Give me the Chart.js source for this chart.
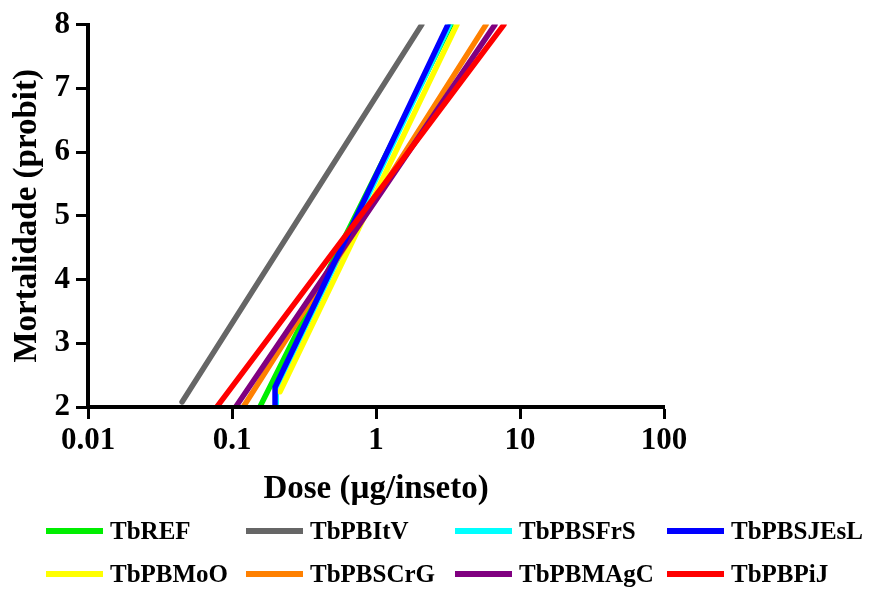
<!DOCTYPE html>
<html>
<head>
<meta charset="utf-8">
<script src="https://cdn.jsdelivr.net/npm/chart.js@4/dist/chart.umd.min.js"></script>
<style>
  html, body { margin:0; padding:0; background:#fff; }
  #wrap { position:relative; width:870px; height:593px; overflow:hidden; }
  #chart-box { position:absolute; left:0; top:0; width:870px; height:510px; }
  #legend {
    position:absolute; left:46px; top:509px;
    display:grid; grid-template-columns:200px 209px 212px 200px;
    row-gap:0; font-family:"Liberation Serif", "Times New Roman", serif;
    font-weight:bold; font-size:25px; color:#000;
  }
  #legend .item { display:flex; align-items:center; height:43px; white-space:nowrap; }
  #legend .swatch { width:57px; height:6px; margin-right:7px; }
</style>
</head>
<body>
<div id="wrap">
  <div id="chart-box"><canvas id="chart"></canvas></div>
  <div id="legend"></div>
</div>
<script>
// series, in legend order
const names  = ['TbREF','TbPBItV','TbPBSFrS','TbPBSJEsL','TbPBMoO','TbPBSCrG','TbPBMAgC','TbPBPiJ'];
const colors = ['#00ee00','#666666','#00ffff','#0000ff','#ffff00','#ff8000','#800080','#ff0000'];

// dose (µg/inseto) and probit of each line's points
const doses = [
  [0.156, 3.32],
  [0.045, 2.08],
  [0.203, 0.203, 3.26],
  [0.199, 0.199, 3.16],
  [0.2154, 3.65],
  [0.1197, 5.81],
  [0.106, 6.70],
  [0.0784, 7.74]
];
const probits = [
  [2, 8],
  [2.08, 8],
  [2, 2.3, 8],
  [2, 2.31, 8],
  [2.24, 8],
  [2, 8],
  [2, 8],
  [2, 8]
];
// lower = drawn on top (red last, blue over yellow/cyan)
const drawOrder = [6, 7, 5, 1, 4, 3, 2, 0];

const xTicks = [0.01, 0.1, 1, 10, 100];
const yTicks = [2, 3, 4, 5, 6, 7, 8];

const FONT = '"Liberation Serif", "Times New Roman", serif';

const datasets = names.map((n, i) => ({
  label: n,
  data: doses[i].map((d, j) => ({x: d, y: probits[i][j]})),
  borderColor: colors[i],
  backgroundColor: colors[i],
  borderWidth: 5.5,
  borderCapStyle: 'round',
  borderJoinStyle: 'round',
  pointRadius: 0,
  tension: 0,
  fill: false,
  order: drawOrder[i],
  clip: {left: 0, top: 0, right: 0, bottom: -2}
}));

new Chart(document.getElementById('chart'), {
  type: 'line',
  data: { datasets },
  options: {
    responsive: true, maintainAspectRatio: false,
    animation: false,
    layout: { padding: { left: 0, top: 24, right: 206, bottom: 0 } },
    plugins: { legend: { display: false }, tooltip: { enabled: false } },
    scales: {
      x: {
        type: 'logarithmic', min: 0.01, max: 100,
        afterBuildTicks: s => { s.ticks = xTicks.map(v => ({value: v})); },
        afterFit: s => { s.height = 103; },
        ticks: {
          color: '#000', padding: 3, maxRotation: 0, autoSkip: false,
          font: { family: FONT, weight: 'bold', size: 31 },
          callback: v => String(v)
        },
        grid: { drawOnChartArea: false, drawTicks: true, tickLength: 12, tickColor: '#000', tickWidth: 3 },
        border: { color: '#000', width: 4 },
        title: {
          display: true, text: 'Dose (µg/inseto)', color: '#000',
          font: { family: FONT, weight: 'bold', size: 33 },
          padding: { top: 0, bottom: 1 }
        }
      },
      y: {
        type: 'linear', min: 2, max: 8,
        afterBuildTicks: s => { s.ticks = yTicks.map(v => ({value: v})); },
        afterFit: s => { s.width = 88; },
        ticks: {
          color: '#000', padding: 6,
          font: { family: FONT, weight: 'bold', size: 31 }
        },
        grid: { drawOnChartArea: false, drawTicks: true, tickLength: 12, tickColor: '#000', tickWidth: 3 },
        border: { color: '#000', width: 4 },
        title: {
          display: true, text: 'Mortalidade (probit)', color: '#000',
          font: { family: FONT, weight: 'bold', size: 33 },
          padding: { top: 8, bottom: 0 }
        }
      }
    }
  }
});

// legend, 4 columns x 2 rows
const legend = document.getElementById('legend');
names.forEach((n, i) => {
  const item = document.createElement('div');
  item.className = 'item';
  const sw = document.createElement('span');
  sw.className = 'swatch';
  sw.style.background = colors[i];
  const tx = document.createElement('span');
  tx.textContent = n;
  item.appendChild(sw); item.appendChild(tx);
  legend.appendChild(item);
});
</script>
</body>
</html>
